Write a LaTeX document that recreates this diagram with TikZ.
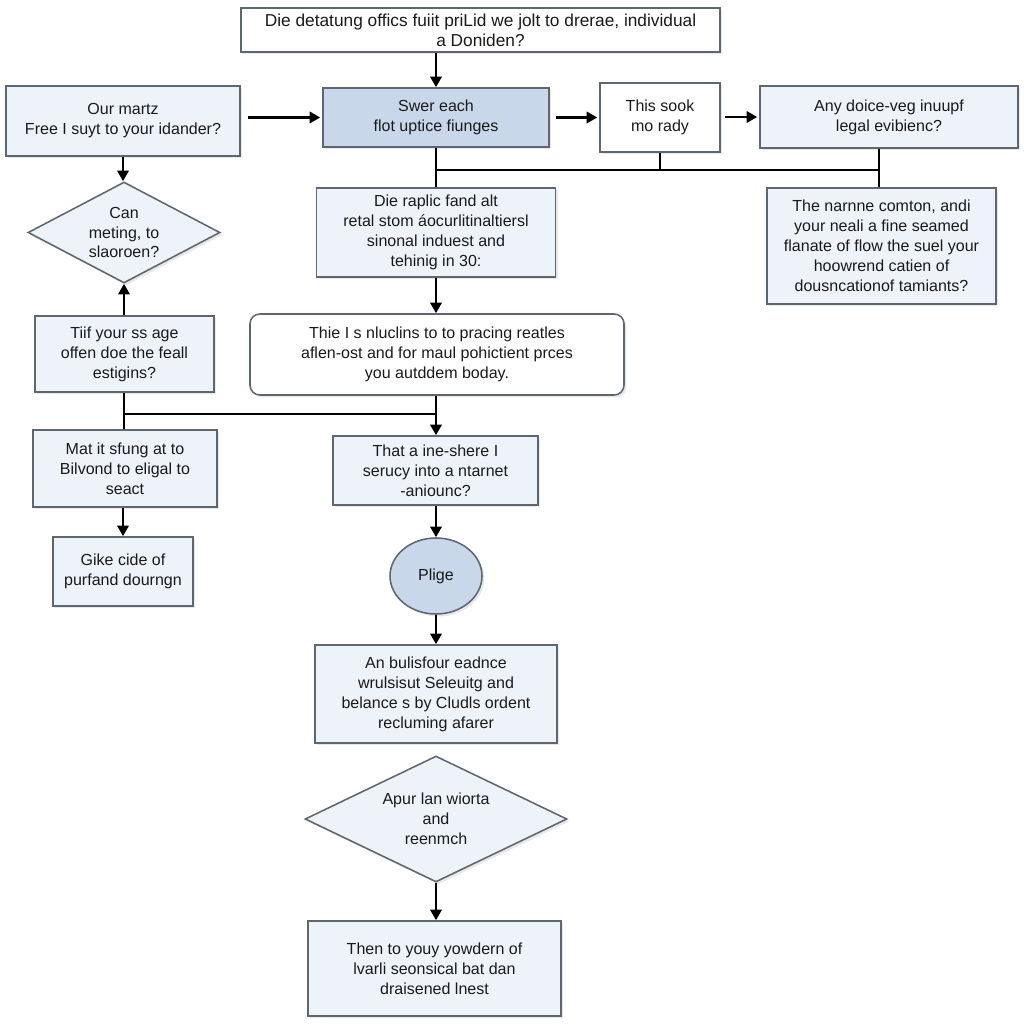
\documentclass[tikz,border=0pt]{standalone}
\usepackage{fontspec}
\setmainfont{Liberation Sans}
\usetikzlibrary{arrows.meta,shapes.geometric,shadows}
\definecolor{boxline}{HTML}{5E6670}
\definecolor{lightfill}{HTML}{EEF2F9}
\definecolor{darkfill}{HTML}{C9D7EA}
\definecolor{txt}{HTML}{1A1A1A}
\begin{document}
\begin{tikzpicture}[x=0.025cm,y=-0.025cm,
  every node/.style={font=\fontsize{11.4}{14.2}\selectfont, text=txt, align=center},
  sz/.style 2 args={minimum width=#1*0.025cm, minimum height=#2*0.025cm},
  shd/.style={drop shadow={shadow xshift=0.06cm, shadow yshift=-0.06cm, opacity=0.18, fill=gray}},
  bx/.style={draw=boxline, line width=1.1pt, fill=lightfill, inner sep=0pt, shd},
  wbx/.style={bx, fill=white},
  dbx/.style={bx, fill=darkfill},
  dia/.style={diamond, draw=boxline, line width=1.1pt, fill=lightfill, inner sep=0pt, shd},
  arr/.style={line width=1.8pt, draw=black, -{Triangle[length=7.5pt,width=8pt]}},
  ln/.style={line width=1.8pt, draw=black},
]
\useasboundingbox[fill=white] (0,0) rectangle (1024,1024);

% top row
\node[wbx, sz={479}{44}, line width=1.4pt, font=\fontsize{12.3}{14.2}\selectfont] (top) at (480.5,30) {Die detatung offics fuiit priLid we jolt to drerae, individual\\a Doniden?};
\node[bx, sz={234}{70}] (our) at (123,121) {Our martz\\Free I suyt to your idander?};
\node[dbx, sz={226}{59}] (swer) at (436,117.5) {Swer each\\flot uptice fiunges};
\node[wbx, sz={120}{69}] (sook) at (660,117.5) {This sook\\mo rady};
\node[bx, sz={258}{62}] (any) at (889,117) {Any doice-veg inuupf\\legal evibienc?};

% second row
\node[dia, sz={192}{101}, label={center:{Can\\meting, to\\slaoroen?}}] (can) at (124,232.5) {};
\node[bx, sz={239}{89}] (die) at (436,232.5) {Die raplic fand alt\\retal stom \'aocurlitinaltiersl\\sinonal induest and\\tehinig in 30:};
\node[bx, sz={229}{116}] (narn) at (881.5,246) {The narnne comton, andi\\your neali a fine seamed\\flanate of flow the suel your\\hoowrend catien of\\dousncationof tamiants?};

% third row
\node[bx, sz={179}{76}] (tiif) at (124.5,354) {Tiif your ss age\\offen doe the feall\\estigins?};
\node[wbx, sz={374}{81}, rounded corners=7pt] (this) at (437,354.5) {Thie I s nluclins to to pracing reatles\\aflen-ost and for maul pohictient prces\\you autddem boday.};

% fourth row
\node[bx, sz={184}{77}] (mat) at (125,468.5) {Mat it sfung at to\\Bilvond to eligal to\\seact};
\node[bx, sz={205}{69}] (that) at (435.5,470.5) {That a ine-shere I\\serucy into a ntarnet\\-aniounc?};
\node[bx, sz={140}{69}] (gike) at (123,571.5) {Gike cide of\\purfand dourngn};
\node[ellipse, draw=boxline, line width=1.1pt, fill=darkfill, inner sep=0pt, shd, sz={92}{76}] (plige) at (436,576) {Plige};

% bottom
\node[bx, sz={242}{98}] (anb) at (436,694) {An bulisfour eadnce\\wrulsisut Seleuitg and\\belance s by Cludls ordent\\recluming afarer};
\node[dia, sz={262}{126}, label={center:{Apur lan wiorta\\and\\reenmch}}] (apur) at (436,819) {};
\node[bx, sz={253}{95}] (then) at (434.5,968.5) {Then to youy yowdern of\\lvarli seonsical bat dan\\draisened lnest};

% junction coordinates
\coordinate (j1) at (436,170);
\coordinate (j2) at (879,170);
\coordinate (j3) at (124,414);
\coordinate (j4) at (436,414);

% connectors
\draw[arr] (top.south -| swer.north) -- (swer.north);
\draw[arr, shorten <=0.17cm, shorten >=0.05cm] (our.east |- swer.west) -- (swer.west);
\draw[arr, shorten <=0.15cm, shorten >=0.05cm] (swer.east |- sook.west) -- (sook.west);
\draw[arr, shorten <=0.1cm, shorten >=0.05cm] (sook.east |- any.west) -- (any.west);
\draw[ln] (swer.south) -- (die.north);
\draw[ln] (j1) -- (j2);
\draw[ln] (sook.south) -- (sook.south |- j1);
\draw[ln] (any.south -| j2) -- (narn.north -| j2);
\draw[arr] (die.south) -- (this.north -| die.south);
\draw[arr] (our.south) -- (can.north -| our.south);
\draw[arr] (tiif.north -| can.south) -- (can.south);
\draw[ln] (tiif.south -| j3) -- (mat.north -| j3);
\draw[ln] (j3) -- (j4);
\draw[arr] (this.south -| j4) -- (that.north -| j4);
\draw[arr] (mat.south -| gike.north) -- (gike.north);
\draw[arr] (that.south -| plige.north) -- (plige.north);
\draw[arr] (plige.south) -- (anb.north);
\draw[arr] (apur.south) -- (then.north -| apur.south);
\end{tikzpicture}
\end{document}
